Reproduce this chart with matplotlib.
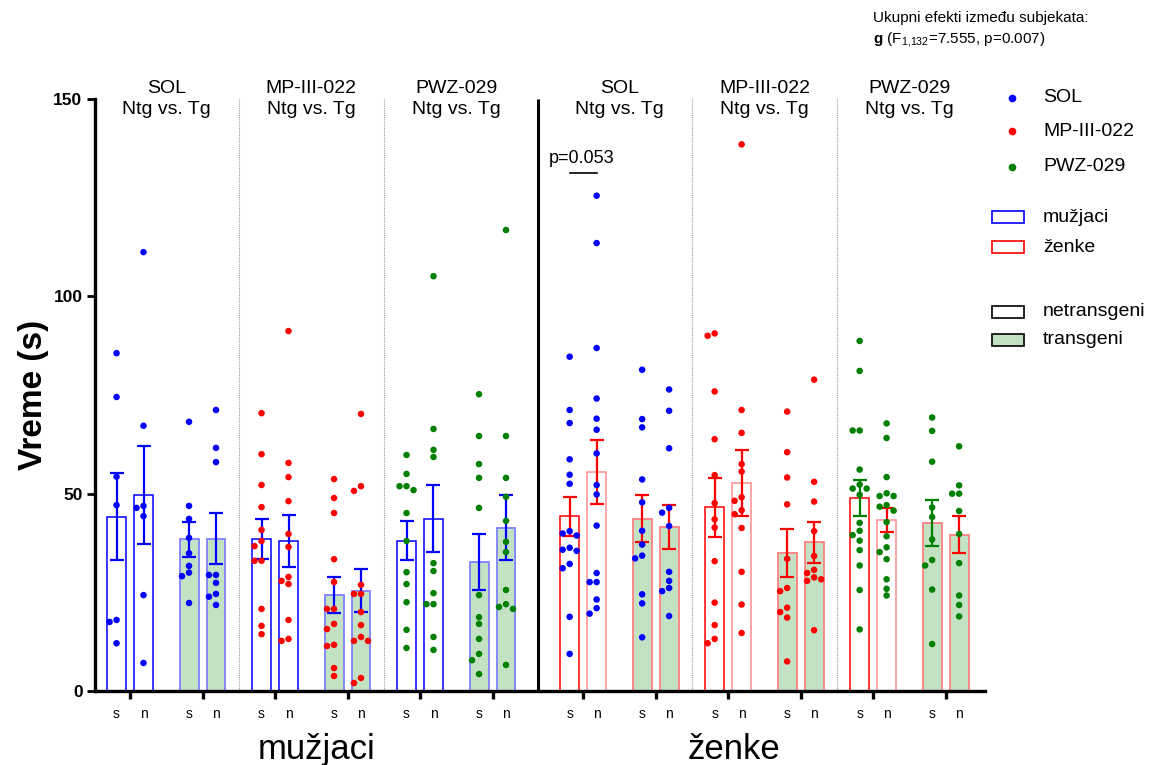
import matplotlib
matplotlib.use("Agg")
import matplotlib.pyplot as plt
from matplotlib.lines import Line2D
from matplotlib.patches import Rectangle

plt.rcParams['font.family'] = ['Liberation Sans', 'DejaVu Sans']
plt.rcParams['mathtext.fontset'] = 'custom'
plt.rcParams['mathtext.rm'] = 'Liberation Sans'
plt.rcParams['mathtext.bf'] = 'Liberation Sans:bold'

drugs = ["SOL", "MP-III-022", "PWZ-029"]
sexes = ["mužjaci", "ženke"]
conds = ["s", "n"]

# order within each drug: Ntg s, Ntg n, Tg s, Tg n
male_points = [
    [85.6, 74.5, 54.3, 47.1, 18.0, 17.5, 12.1],
    [111.2, 67.2, 46.9, 46.4, 44.3, 24.3, 7.1],
    [68.2, 46.9, 43.6, 38.8, 34.9, 31.7, 30.0, 29.1, 22.3],
    [71.2, 61.6, 58.0, 29.4, 29.4, 27.4, 24.6, 23.9, 21.8],
    [70.4, 60.0, 52.2, 46.6, 40.8, 38.0, 36.7, 33.0, 33.0, 20.8, 16.5, 14.4],
    [91.2, 57.8, 54.2, 48.1, 39.8, 36.5, 28.9, 27.9, 27.1, 18.0, 13.2, 12.7],
    [53.7, 48.9, 45.1, 33.4, 27.6, 20.8, 20.8, 17.0, 15.7, 11.7, 11.4, 5.8, 3.8],
    [70.2, 51.9, 50.7, 26.9, 24.6, 24.6, 20.0, 16.7, 13.7, 12.7, 12.7, 3.3, 2.0],
    [59.8, 55.0, 51.9, 51.9, 50.9, 45.1, 38.0, 30.1, 27.1, 22.5, 15.5, 10.9],
    [105.1, 66.4, 61.1, 59.3, 32.4, 30.4, 24.8, 22.0, 22.0, 13.7, 10.4],
    [75.2, 64.6, 57.5, 54.0, 46.4, 24.3, 18.7, 17.0, 13.2, 9.4, 7.8, 4.3],
    [116.8, 64.6, 54.0, 49.2, 43.1, 37.8, 35.2, 25.6, 22.0, 21.3, 20.8, 6.6],
]
female_points = [
    [84.7, 71.2, 67.9, 58.7, 54.8, 52.5, 40.5, 39.9, 39.4, 36.3, 35.8, 35.5, 32.2, 31.1, 18.8, 9.4],
    [125.5, 113.5, 86.9, 74.1, 69.0, 66.2, 60.2, 52.2, 49.8, 41.9, 29.9, 27.6, 27.6, 23.2, 21.0, 19.6],
    [81.4, 68.9, 66.8, 53.6, 47.8, 40.6, 37.1, 34.3, 33.6, 24.5, 22.2, 13.6],
    [76.4, 71.0, 61.5, 46.4, 45.2, 41.8, 30.2, 27.9, 26.1, 25.3, 19.0],
    [90.6, 90.0, 75.9, 63.8, 54.7, 47.6, 43.5, 41.4, 32.9, 22.4, 16.7, 13.2, 12.1],
    [138.5, 71.2, 65.4, 57.5, 55.6, 49.1, 48.2, 45.8, 44.8, 41.3, 30.2, 21.9, 14.7],
    [70.8, 60.5, 54.1, 47.3, 33.5, 26.1, 25.3, 21.1, 20.0, 18.6, 7.5],
    [78.9, 53.0, 48.0, 40.5, 34.2, 30.7, 29.9, 28.8, 28.3, 27.9, 15.4],
    [88.7, 81.1, 66.0, 66.0, 56.1, 52.3, 51.3, 51.3, 49.7, 42.6, 40.6, 39.5, 38.1, 35.7, 31.8, 25.6, 15.6],
    [67.8, 64.1, 54.2, 50.1, 49.4, 49.4, 47.1, 46.7, 45.7, 42.8, 39.2, 36.4, 35.2, 33.4, 28.3, 25.9, 24.2],
    [69.3, 65.9, 58.1, 46.5, 44.1, 38.4, 33.2, 31.8, 25.7, 11.9],
    [62.0, 52.1, 50.0, 50.0, 45.6, 39.8, 32.4, 24.2, 21.8, 18.9],
]
male_means = [44.2, 49.7, 38.4, 38.6, 38.5, 37.9, 24.3, 25.4, 38.1, 43.6, 32.7, 41.4]
male_sem = [11.1, 12.4, 4.5, 6.4, 5.0, 6.6, 4.5, 5.5, 4.9, 8.5, 7.2, 8.2]
female_means = [44.3, 55.5, 43.7, 41.6, 46.5, 52.7, 35.0, 37.7, 48.9, 43.4, 42.5, 39.6]
female_sem = [4.9, 8.1, 6.0, 5.5, 7.5, 8.4, 6.0, 5.2, 4.6, 3.0, 5.8, 4.7]

BLUE = "#0000ff"
RED = "#ff0000"
GREEN = "#008000"
FILL = "#c3e2c3"
dot_colors = [BLUE, RED, GREEN]
sex_colors = [BLUE, RED]

fig = plt.figure(figsize=(11.54, 7.65), dpi=100)
ax = fig.add_axes([95 / 1154, 74 / 765, 890 / 1154, 592 / 765])
ax.set_xlim(-0.483, 11.793)
ax.set_ylim(0, 150)

XPX = ax.transData.transform((1, 0))[0] - ax.transData.transform((0, 0))[0]
YPX = ax.transData.transform((0, 1))[1] - ax.transData.transform((0, 0))[1]


def swarm(vals, xc, step=7.0, diam=6.5):
    placed = []
    out = [xc] * len(vals)
    for i in sorted(range(len(vals)), key=lambda j: -vals[j]):
        ypx = vals[i] * YPX
        for k in [0, -1, 1, -2, 2, -3, 3]:
            xpx = k * step
            if all((xpx - a) ** 2 + (ypx - b) ** 2 >= diam ** 2 for a, b in placed):
                break
        placed.append((xpx, ypx))
        out[i] = xc + xpx / XPX
    return out


half = 0.186
width = 0.262
pair_centers = [[0, 1, 2, 3, 4, 5], [6.25, 7.25, 8.25, 9.25, 10.25, 11.25]]
all_points = [male_points, female_points]
all_means = [male_means, female_means]
all_sem = [male_sem, female_sem]

for si in range(2):
    col = sex_colors[si]
    for b in range(12):
        d = b // 4
        tg = (b // 2) % 2
        c = b % 2
        x = pair_centers[si][b // 2] + (half if c else -half)
        if tg:
            ax.bar(x, all_means[si][b], width, color=FILL, edgecolor=col,
                   linewidth=1.2, zorder=2)
            ax.bar(x, all_means[si][b], width, color="none", edgecolor="white",
                   linewidth=1.2, alpha=0.55, zorder=2)
        else:
            ec_alpha = 0.45 if (si == 1 and c == 1) else 1.0
            ax.bar(x, all_means[si][b], width, color="white", edgecolor=col,
                   linewidth=1.1, zorder=2, alpha=ec_alpha)
        ecol = col
        if si == 1 and d == 2 and c == 0:
            ecol = GREEN
        ax.errorbar(x, all_means[si][b], yerr=all_sem[si][b], fmt="none",
                    ecolor=ecol, elinewidth=1.6, capsize=5, capthick=1.6, zorder=3)
        pts = all_points[si][b]
        xs = swarm(pts, x)
        ax.scatter(xs, pts, s=22, color=dot_colors[d], edgecolors="none", zorder=4)
        ax.text(x, -5.8, conds[c], ha="center", va="center", fontsize=10, clip_on=False)

# group separators
for xv in [1.5, 3.5, 7.75, 9.75]:
    ax.vlines(xv, 0, 150, colors="#999999", linestyles=(0, (1, 1)), linewidth=0.8, zorder=1)
ax.vlines(5.625, 0, 150, colors="black", linewidth=2.2, zorder=5)

# group titles
for si in range(2):
    for d in range(3):
        gx = (pair_centers[si][2 * d] + pair_centers[si][2 * d + 1]) / 2
        ax.text(gx, 150, drugs[d] + "\nNtg vs. Tg", ha="center", va="center",
                fontsize=14, linespacing=1.3, clip_on=False)

# significance annotation
x1 = pair_centers[1][0] - half
x2 = pair_centers[1][0] + half
ax.plot([x1, x2], [131.2, 131.2], color="black", linewidth=1.2)
ax.text(6.23, 135, "p=0.053", ha="center", va="center", fontsize=13)

# axes styling
for sp in ["top", "right"]:
    ax.spines[sp].set_visible(False)
ax.spines["left"].set_linewidth(2.4)
ax.spines["bottom"].set_linewidth(2.4)
ax.set_xticks([c for row in pair_centers for c in row])
ax.set_xticklabels([])
ax.tick_params(axis="x", length=6, width=2.4)
ax.set_yticks([0, 50, 100, 150])
ax.tick_params(axis="y", length=6, width=2.0, labelsize=12.5, pad=3)
for lab in ax.get_yticklabels():
    lab.set_fontweight("bold")
ax.set_ylabel("Vreme (s)", fontsize=24, fontweight="bold")
ax.yaxis.set_label_coords(-0.052, 0.5)

fig.text(317 / 1154, 1 - 759 / 765, sexes[0], ha="center", va="baseline", fontsize=25)
fig.text(734 / 1154, 1 - 759 / 765, sexes[1], ha="center", va="baseline", fontsize=25)

fig.text(873 / 1154, 1 - 18 / 765, "Ukupni efekti između subjekata:", ha="left",
         va="center", fontsize=11)
fig.text(873 / 1154, 1 - 40 / 765, r"$\mathbf{g}$ (F$_{1{,}132}$=7.555, p=0.007)", ha="left",
         va="center", fontsize=11)

# legend
for d, yp in zip(range(3), [97.7, 131, 166.7]):
    fig.add_artist(Line2D([1012 / 1154], [1 - yp / 765], transform=fig.transFigure,
                          marker="o", markersize=4.5, color=dot_colors[d], linestyle="none"))
    fig.text(1043 / 1154, 1 - yp / 765, drugs[d], ha="left", va="center", fontsize=14)

rects = [(217, "white", BLUE, sexes[0]), (247, "white", RED, sexes[1]),
         (312, "white", "black", "netransgeni"), (340, FILL, "black", "transgeni")]
for yp, fc, ec, lab in rects:
    fig.add_artist(Rectangle((992 / 1154, 1 - (yp + 6) / 765), 32 / 1154, 12 / 765,
                             transform=fig.transFigure, facecolor=fc, edgecolor=ec,
                             linewidth=1.2))
    fig.text(1043 / 1154, 1 - yp / 765, lab, ha="left", va="center", fontsize=14)

fig.savefig("out.png", dpi=100)
